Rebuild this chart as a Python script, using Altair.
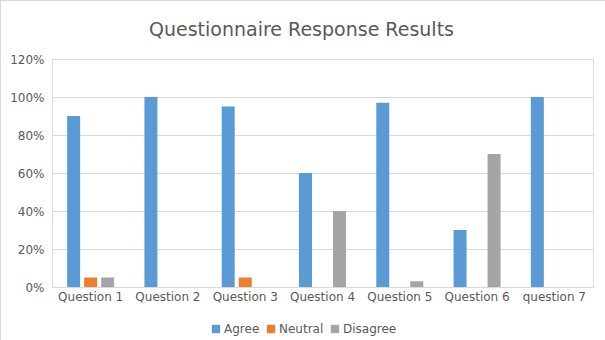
import altair as alt
import pandas as pd

questions = ["Question 1", "Question 2", "Question 3", "Question 4", "Question 5", "Question 6", "question 7"]
agree = [0.90, 1.00, 0.95, 0.60, 0.97, 0.30, 1.00]
neutral = [0.05, 0.0, 0.05, 0.0, 0.0, 0.0, 0.0]
disagree = [0.05, 0.0, 0.0, 0.40, 0.03, 0.70, 0.0]
series = ["Agree", "Neutral", "Disagree"]
colors = ["#5B9BD5", "#ED7D31", "#A5A5A5"]

rows = []
for i, q in enumerate(questions):
    for s, vals in zip(series, [agree, neutral, disagree]):
        rows.append({"Question": q, "Response": s, "Value": vals[i]})
df = pd.DataFrame(rows)

W, H = 541, 228
FONT = "DejaVu Sans"
TXT = "#595959"

bars = alt.Chart(df).mark_bar().encode(
    x=alt.X("Question:N", sort=questions,
            scale=alt.Scale(paddingInner=0, paddingOuter=0),
            axis=alt.Axis(title=None, labelAngle=0, ticks=False, domainColor="#D9D9D9",
                          labelColor=TXT, labelFontSize=12, labelFont=FONT, labelPadding=4)),
    xOffset=alt.XOffset("Response:N", sort=series,
                        scale=alt.Scale(paddingInner=0.235, paddingOuter=0.89)),
    y=alt.Y("Value:Q", scale=alt.Scale(domain=[0, 1.2], nice=False),
            axis=alt.Axis(title=None, format=".0%", values=[0, 0.2, 0.4, 0.6, 0.8, 1.0, 1.2],
                          ticks=False, domain=False, gridColor="#D9D9D9",
                          labelColor=TXT, labelFontSize=12, labelFont=FONT, labelPadding=8)),
    color=alt.Color("Response:N", sort=series,
                    scale=alt.Scale(domain=series, range=colors),
                    legend=alt.Legend(title=None, orient="none", direction="horizontal",
                                      legendX=158, legendY=264, symbolType="square",
                                      symbolSize=70, symbolStrokeWidth=0,
                                      labelFontSize=12, labelFont=FONT, labelColor=TXT,
                                      columnPadding=5, labelOffset=2)),
)

border_top = alt.Chart(df).mark_rule(color="#D9D9D9", strokeWidth=1).encode(
    x=alt.value(-52), x2=alt.value(W + 12), y=alt.value(-58.5))
border_left = alt.Chart(df).mark_rule(color="#D9D9D9", strokeWidth=1).encode(
    x=alt.value(-51.5), y=alt.value(-59), y2=alt.value(H + 53))

chart = alt.layer(bars, border_top, border_left).properties(
    width=W, height=H,
    autosize=alt.AutoSizeParams(type="none"),
    padding={"left": 52, "top": 59, "right": 12, "bottom": 53},
    title=alt.TitleParams("Questionnaire Response Results", fontSize=19, font=FONT,
                          fontWeight="normal", color=TXT, anchor="middle", frame="group",
                          offset=-40, dx=-21),
).configure_view(stroke=None).configure(background="white")

chart.save("out.html", embed_options={"renderer": "svg", "actions": False})
